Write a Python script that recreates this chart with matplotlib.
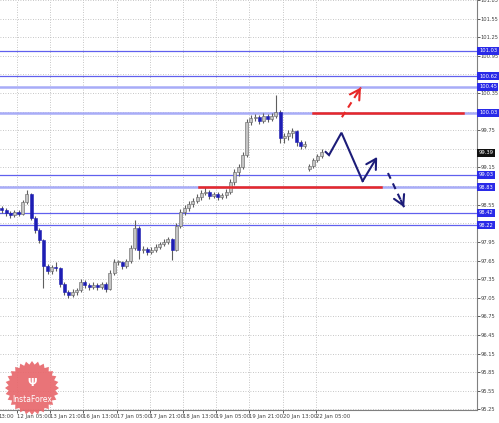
import numpy as np
import matplotlib.pyplot as plt
import matplotlib.transforms as mtransforms
from matplotlib.patches import Polygon

# ============================================================================
# Data (2-hour candles, prices)

opens = [98.49, 98.46, 98.41, 98.38, 98.43, 98.40, 98.59, 98.72, 98.33, 98.14,
         97.98, 97.56, 97.48, 97.54, 97.53, 97.27, 97.14, 97.09, 97.14, 97.17,
         97.30, 97.25, 97.22, 97.25, 97.22, 97.27, 97.19, 97.45, 97.62, 97.62,
         97.56, 97.64, 97.85, 98.17, 97.82, 97.83, 97.79, 97.82, 97.87, 97.91,
         97.95, 97.99, 97.82, 98.21, 98.43, 98.49, 98.56, 98.61, 98.67, 98.74,
         98.75, 98.69, 98.72, 98.67, 98.70, 98.75, 98.91, 99.07, 99.15, 99.35,
         99.88, 99.94, 99.96, 99.90, 99.98, 99.93, 99.98, 100.04, 99.62, 99.65,
         99.70, 99.73, 99.56, 99.49, 99.13, 99.17, 99.27, 99.33]
closes = [98.46, 98.41, 98.38, 98.43, 98.40, 98.59, 98.72, 98.33, 98.14, 97.98,
          97.56, 97.48, 97.54, 97.53, 97.27, 97.14, 97.09, 97.14, 97.17, 97.30,
          97.25, 97.22, 97.25, 97.22, 97.27, 97.19, 97.45, 97.62, 97.62, 97.56,
          97.64, 97.85, 98.17, 97.82, 97.83, 97.79, 97.82, 97.87, 97.91, 97.95,
          97.99, 97.82, 98.21, 98.43, 98.49, 98.56, 98.61, 98.67, 98.74, 98.75,
          98.69, 98.72, 98.67, 98.70, 98.75, 98.91, 99.07, 99.15, 99.35, 99.88,
          99.94, 99.96, 99.90, 99.98, 99.93, 99.98, 100.04, 99.62, 99.65, 99.70,
          99.73, 99.56, 99.49, 99.53, 99.17, 99.27, 99.33, 99.40]
highs = [98.53, 98.50, 98.45, 98.47, 98.46, 98.63, 98.79, 98.74, 98.36, 98.18,
         98.00, 97.60, 97.58, 97.62, 97.55, 97.30, 97.18, 97.19, 97.21, 97.36,
         97.33, 97.29, 97.30, 97.28, 97.31, 97.30, 97.49, 97.67, 97.66, 97.64,
         97.68, 97.90, 98.30, 98.20, 97.88, 97.86, 97.87, 97.91, 97.95, 97.99,
         98.03, 98.01, 98.26, 98.48, 98.55, 98.61, 98.66, 98.72, 98.79, 98.83,
         98.78, 98.76, 98.75, 98.74, 98.80, 98.96, 99.12, 99.20, 99.40, 99.93,
         100.00, 100.02, 99.99, 100.03, 100.01, 100.03, 100.32, 100.07, 99.71, 99.75,
         99.78, 99.76, 99.60, 99.58, 99.20, 99.31, 99.37, 99.44]
lows = [98.42, 98.36, 98.34, 98.35, 98.36, 98.38, 98.56, 98.30, 98.10, 97.94,
        97.21, 97.44, 97.44, 97.48, 97.23, 97.10, 97.04, 97.06, 97.10, 97.14,
        97.20, 97.18, 97.19, 97.17, 97.19, 97.14, 97.17, 97.42, 97.57, 97.51,
        97.53, 97.61, 97.82, 97.68, 97.77, 97.74, 97.76, 97.79, 97.84, 97.88,
        97.92, 97.66, 97.80, 98.18, 98.39, 98.45, 98.52, 98.57, 98.63, 98.70,
        98.64, 98.65, 98.62, 98.64, 98.66, 98.72, 98.87, 99.02, 99.12, 99.32,
        99.84, 99.90, 99.85, 99.87, 99.88, 99.90, 99.95, 99.55, 99.55, 99.60,
        99.63, 99.50, 99.44, 99.46, 99.10, 99.14, 99.24, 99.31]

# support / resistance levels
levels = [101.03, 100.62, 100.45, 100.03, 99.03, 98.83, 98.42, 98.22]
light_levels = [100.45, 100.03, 98.83]
last_price = 99.39

# red levels: (price, start bar, end bar)
red_levels = [(100.03, 74.9, 111.1), (98.83, 47.5, 91.3)]

# forecast paths (bar, price)
blue_path_x = [78.0, 78.8, 81.8, 86.9, 90.4]
blue_path_y = [99.40, 99.35, 99.71, 98.93, 99.32]
red_dash_x = [81.9, 86.5]
red_dash_y = [99.96, 100.44]
blue_dash_x = [93.0, 96.9]
blue_dash_y = [99.06, 98.51]

time_labels = ["12 Jan 05:00", "13 Jan 21:00", "16 Jan 13:00", "17 Jan 05:00",
               "17 Jan 21:00", "18 Jan 13:00", "19 Jan 05:00", "19 Jan 21:00",
               "20 Jan 13:00", "22 Jan 05:00"]

# ============================================================================
W, H = 499, 423
FONT = ['Liberation Sans Narrow', 'DejaVu Sans']
plt.rcParams['font.family'] = FONT

fig = plt.figure(figsize=(W / 100, H / 100), dpi=100)
ax = fig.add_axes([0, 13 / H, 477 / W, 410 / H])

ax.set_xlim(-0.48, 114.46)
ax.set_ylim(95.24, 101.85)

# grid / ticks
yt = np.round(np.arange(95.25, 101.86, 0.30), 2)
xt = 3.6 + 8 * np.arange(len(time_labels))
marks = levels + [last_price]
ax.set_yticks(yt)
# labels that sit right under a price box are left out
ax.set_yticklabels(['' if min(abs(v - lv) for lv in marks) < 0.07 else '%.2f' % v
                    for v in yt])
ax.set_xticks(xt)
ax.set_xticklabels(time_labels, ha='left')
ax.grid(True, linestyle=(0, (1, 2)), color='#b4b4b4', lw=0.6)
ax.set_axisbelow(True)

ax.yaxis.tick_right()
ax.tick_params(axis='y', labelsize=3.7, colors='#404040', length=2, width=0.6, pad=0.8)
ax.tick_params(axis='x', labelsize=3.9, colors='#404040', length=2, width=0.6, pad=1)
for s in ['left', 'top']:
    ax.spines[s].set_visible(False)
for s in ['right', 'bottom']:
    ax.spines[s].set_color('#808080')
    ax.spines[s].set_linewidth(0.8)
fig.text(-2 / W, 1 - 416 / H, "13:00", fontsize=3.9, color='#404040', ha='left', va='center')

# level lines
for lv in levels:
    if lv in light_levels:
        ax.axhline(lv, color='#a8acf8', lw=1.8, zorder=1)
    else:
        ax.axhline(lv, color='#6060ee', lw=0.9, zorder=1)

# candles
x = np.arange(len(closes))
o = np.array(opens)
c = np.array(closes)
ax.vlines(x, lows, highs, color='#5e5e5e', lw=0.8, zorder=3)
bull = c >= o
body = np.maximum(np.abs(c - o), 0.015)
ax.bar(x[bull], body[bull], bottom=np.minimum(o, c)[bull], width=0.72,
       color='#c4c4c4', edgecolor='#606060', lw=0.4, zorder=4)
ax.bar(x[~bull], body[~bull], bottom=np.minimum(o, c)[~bull], width=0.72,
       color='#1e1eb4', edgecolor='#1e1eb4', lw=0.4, zorder=4)

# red levels
for price, x0, x1 in red_levels:
    ax.plot([x0, x1], [price, price], color='#e82828', lw=1.8, zorder=5)

# forecast arrows
navy = '#1c1c78'
ax.plot(blue_path_x[:-1], blue_path_y[:-1], color=navy, lw=1.5, zorder=6,
        solid_joinstyle='miter')
ax.annotate('', xy=(blue_path_x[-1], blue_path_y[-1]),
            xytext=(blue_path_x[-2], blue_path_y[-2]),
            arrowprops=dict(arrowstyle='->,head_length=0.7,head_width=0.4',
                            color=navy, lw=1.5, shrinkA=0, shrinkB=0), zorder=6)

for xs, ys, col in [(red_dash_x, red_dash_y, '#e82828'), (blue_dash_x, blue_dash_y, navy)]:
    ax.plot(xs, ys, color=col, lw=1.5, ls=(0, (3, 2.5)), zorder=6)
    mx = xs[0] + 0.8 * (xs[1] - xs[0])
    my = ys[0] + 0.8 * (ys[1] - ys[0])
    ax.annotate('', xy=(xs[1], ys[1]), xytext=(mx, my),
                arrowprops=dict(arrowstyle='->,head_length=0.7,head_width=0.4',
                                color=col, lw=1.5, shrinkA=0, shrinkB=0), zorder=6)

# price labels on the right axis
trans = mtransforms.blended_transform_factory(ax.transAxes, ax.transData)
for lv in levels:
    ax.text(1.004, lv, '%.2f' % lv, transform=trans, fontsize=3.7, color='white',
            ha='left', va='center', clip_on=False, zorder=10,
            bbox=dict(boxstyle='square,pad=0.3', fc='#2a2ae8', ec='none'))
ax.text(1.004, last_price, '%.2f' % last_price, transform=trans, fontsize=3.7,
        color='white', ha='left', va='center', clip_on=False, zorder=10,
        bbox=dict(boxstyle='square,pad=0.3', fc='#101010', ec='none'))

# InstaForex badge
cx, cy = 32, 388
ang = np.linspace(0, 2 * np.pi, 57)[:-1]
rad = np.where(np.arange(len(ang)) % 2 == 0, 27, 23.5)
verts = np.column_stack([(cx + rad * np.cos(ang)) / W, 1 - (cy + rad * np.sin(ang)) / H])
fig.add_artist(Polygon(verts, closed=True, transform=fig.transFigure,
                       fc='#e8686c', ec='none', alpha=0.92, zorder=20))
fig.text(cx / W, 1 - 383 / H, 'Ψ', fontsize=8, color='white', ha='center',
         va='center', family='DejaVu Sans', weight='bold', zorder=21)
fig.text(cx / W, 1 - 399 / H, 'InstaForex', fontsize=5.5, color='white',
         ha='center', va='center', family='DejaVu Sans', zorder=21)

fig.savefig('out.png', dpi=100)
